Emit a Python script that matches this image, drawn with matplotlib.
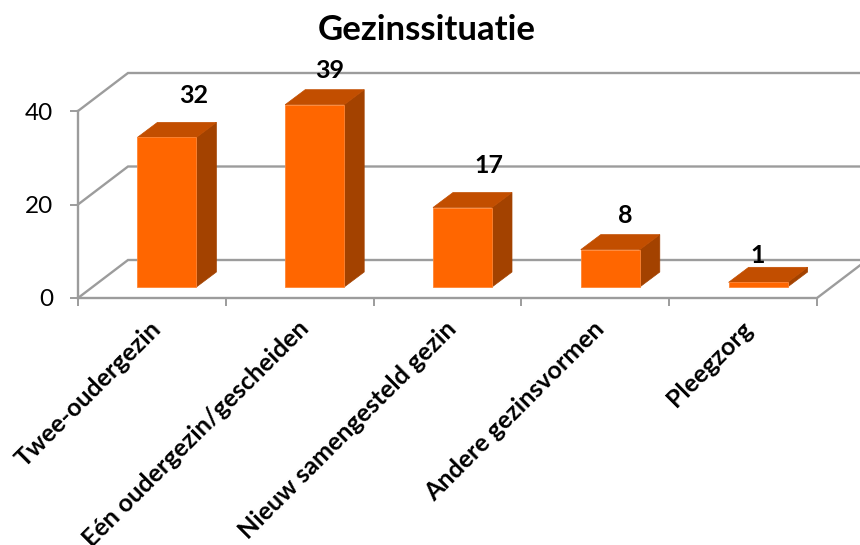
import matplotlib
matplotlib.use("Agg")
import matplotlib.pyplot as plt
from matplotlib.patches import Polygon

categories = ["Twee-oudergezin", "Eén oudergezin/gescheiden", "Nieuw samengesteld gezin",
              "Andere gezinsvormen", "Pleegzorg"]
values = [32, 39, 17, 8, 1]
yticks = [0, 20, 40]

plt.rcParams['font.family'] = ['Lato', 'DejaVu Sans']

W, H = 860, 545
GRID = "#9C9C9C"
FRONT, TOP, SIDE = "#FF6600", "#C24E00", "#A34200"

# 3d look: shift in data units, wall depth and bar depth
WALL_DX, WALL_DY = 50 / 147.8, 38 / 4.675
BAR_X0, BAR_Y0 = 15 / 147.8, 11 / 4.675
BAR_DX, BAR_DY = 20 / 147.8, 15 / 4.675
BAR_W = 59 / 147.8
# label shift from the back top corner of the bar, pixels
label_shift = [(-23, 27), (-35, 19), (-23, 27), (-35, 19), (-50, 12)]

fig = plt.figure(figsize=(W / 100, H / 100), dpi=100)
ax = fig.add_axes([78 / W, 1 - 298 / H, 739 / W, 187 / H])
ax.set_xlim(0, len(categories))
ax.set_ylim(0, 40)
for s in ax.spines.values():
    s.set_visible(False)
ax.patch.set_alpha(0)

# walls and gridlines
for t in yticks:
    ax.plot([0, WALL_DX, len(categories) + WALL_DX], [t, t + WALL_DY, t + WALL_DY],
            color=GRID, lw=1.7, clip_on=False, zorder=1, solid_joinstyle='miter')
ax.plot([0, 0], [0, 40], color=GRID, lw=1.7, clip_on=False, zorder=1)
ax.plot([0, len(categories), len(categories) + WALL_DX], [0, 0, WALL_DY],
        color=GRID, lw=1.7, clip_on=False, zorder=1, solid_joinstyle='miter')

# bars
for i, v in enumerate(values):
    left = i + 0.5 - BAR_W / 2 + BAR_X0
    right = left + BAR_W
    bottom = BAR_Y0
    top = BAR_Y0 + v
    ax.add_patch(Polygon([(right, bottom), (right + BAR_DX, bottom + BAR_DY),
                          (right + BAR_DX, top + BAR_DY), (right, top)],
                         fc=SIDE, ec=SIDE, lw=0.5, clip_on=False, zorder=3))
    ax.add_patch(Polygon([(left, top), (right, top), (right + BAR_DX, top + BAR_DY),
                          (left + BAR_DX, top + BAR_DY)],
                         fc=TOP, ec=TOP, lw=0.5, clip_on=False, zorder=3))
    ax.add_patch(Polygon([(left, bottom), (right, bottom), (right, top), (left, top)],
                         fc=FRONT, ec="#FF8533", lw=0.6, clip_on=False, zorder=4))
    ax.annotate(str(v), (right + BAR_DX, top + BAR_DY), xytext=label_shift[i],
                textcoords='offset pixels', ha='center', va='center',
                fontsize=18, fontweight='bold', color='black', zorder=5,
                annotation_clip=False)

ax.set_yticks(yticks)
ax.set_xticks(range(len(categories) + 1))
ax.set_xticklabels([])
ax.tick_params(axis='both', length=6, width=1.4, color=GRID)
ax.tick_params(axis='y', labelsize=17.5, pad=12)

# category labels sit between the ticks
for i, name in enumerate(categories):
    ax.annotate(name, (i + 0.5, 0), xytext=(-3, -19), textcoords='offset pixels',
                rotation=45, rotation_mode='anchor', ha='right', va='top',
                fontsize=18, fontweight='bold', annotation_clip=False)

fig.text(427 / W, 1 - 30 / H, "Gezinssituatie", ha='center', va='center',
         fontsize=25, fontweight='bold')

fig.savefig("out.png", dpi=100)
